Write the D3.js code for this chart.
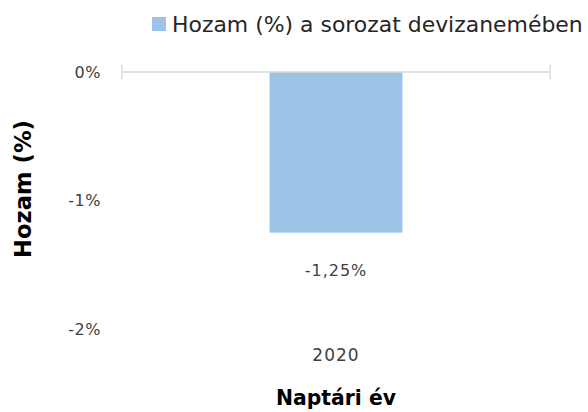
<!DOCTYPE html>
<html>
<head>
<meta charset="utf-8">
<script src="https://cdn.jsdelivr.net/npm/d3@7"></script>
<style>
  body { margin: 0; background: #fff; }
  svg { display: block; font-family: "DejaVu Sans", sans-serif; }
</style>
</head>
<body>
<script>
// Chart data
const years = ["2020"];
const returns = [-1.25];
const yTicks = [0, -1, -2];
const seriesName = "Hozam (%) a sorozat devizanemében";

const width = 588;
const height = 412;

const svg = d3.select("body")
  .append("svg")
  .attr("width", width)
  .attr("height", height);

// Scales
const x = d3.scaleBand()
  .domain(years)
  .range([122, 550])
  .paddingInner(0.526)
  .paddingOuter(0.526);

const y = d3.scaleLinear()
  .domain([-2, 0])
  .range([329, 72]);

// fit a text element to a target width
function fitWidth(sel, target) {
  const w = sel.node().getComputedTextLength();
  const fs = parseFloat(sel.attr("font-size"));
  sel.attr("font-size", fs * target / w);
}

// Y tick labels (no gridlines)
svg.append("g")
  .selectAll("text")
  .data(yTicks)
  .join("text")
  .attr("x", 101)
  .attr("y", (d) => y(d))
  .attr("dy", "0.35em")
  .attr("text-anchor", "end")
  .attr("font-size", 16)
  .attr("letter-spacing", 0.5)
  .attr("fill", "#404040")
  .text((d) => d + "%");

// Bars
svg.append("g")
  .selectAll("rect")
  .data(returns)
  .join("rect")
  .attr("x", (d, i) => x(years[i]))
  .attr("width", x.bandwidth())
  .attr("y", (d) => y(Math.max(0, d)))
  .attr("height", (d) => Math.abs(y(d) - y(0)))
  .attr("fill", "#9dc3e6");

// Zero axis line with end ticks
const xAxis = svg.append("g")
  .attr("transform", `translate(0,${y(0)})`)
  .call(d3.axisBottom(x).tickSize(0).tickFormat(""));
xAxis.select(".domain").remove();
const [r0, r1] = x.range();
xAxis.append("line")
  .attr("x1", r0).attr("x2", r1)
  .attr("stroke", "#d9d9d9").attr("stroke-width", 1.3);
xAxis.selectAll(".endtick")
  .data([r0, r1])
  .join("line")
  .attr("x1", (d) => d).attr("x2", (d) => d)
  .attr("y1", -7).attr("y2", 7)
  .attr("stroke", "#d9d9d9").attr("stroke-width", 1.3);

// Value labels under the bar
svg.append("g")
  .selectAll("text")
  .data(returns)
  .join("text")
  .attr("x", (d, i) => x(years[i]) + x.bandwidth() / 2)
  .attr("y", (d) => y(d) + 38)
  .attr("dy", "0.35em")
  .attr("text-anchor", "middle")
  .attr("font-size", 16)
  .attr("letter-spacing", 1)
  .attr("fill", "#404040")
  .text((d) => d.toFixed(2).replace(".", ",") + "%");

// Category labels
svg.append("g")
  .selectAll("text")
  .data(years)
  .join("text")
  .attr("x", (d) => x(d) + x.bandwidth() / 2)
  .attr("y", 355)
  .attr("dy", "0.35em")
  .attr("text-anchor", "middle")
  .attr("font-size", 17)
  .attr("letter-spacing", 1)
  .attr("fill", "#404040")
  .text((d) => d);

// Axis titles
const xTitle = svg.append("text")
  .attr("x", 336)
  .attr("y", 398)
  .attr("dy", "0.35em")
  .attr("text-anchor", "middle")
  .attr("font-size", 20)
  .attr("font-weight", "bold")
  .attr("fill", "#000")
  .text("Naptári év");
fitWidth(xTitle, 120);

const yTitle = svg.append("text")
  .attr("transform", "translate(23,189) rotate(-90)")
  .attr("dy", "0.35em")
  .attr("text-anchor", "middle")
  .attr("font-size", 20)
  .attr("font-weight", "bold")
  .attr("fill", "#000")
  .text("Hozam (%)");
fitWidth(yTitle, 138);

// Legend
const legend = svg.append("g");
legend.append("rect")
  .attr("x", 152).attr("y", 17)
  .attr("width", 14).attr("height", 14)
  .attr("fill", "#9dc3e6");
const legText = legend.append("text")
  .attr("x", 172)
  .attr("y", 24)
  .attr("dy", "0.35em")
  .attr("font-size", 19)
  .attr("fill", "#262626")
  .text(seriesName);
fitWidth(legText, 411);
</script>
</body>
</html>
